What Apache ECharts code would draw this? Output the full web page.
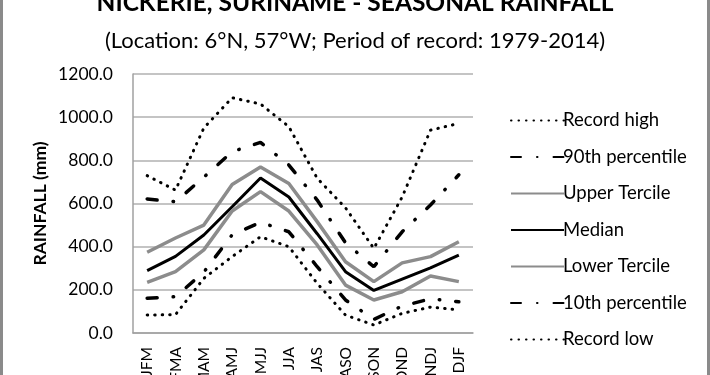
<!DOCTYPE html>
<html>
<head>
<meta charset="utf-8">
<script src="https://cdn.jsdelivr.net/npm/echarts@6/dist/echarts.min.js"></script>
<style>
  html, body { margin: 0; padding: 0; background: #fff; }
  #chart { width: 710px; height: 375px; }
</style>
</head>
<body>
<div id="chart"></div>
<script>
// seasons (3-month windows)
const seasons = ['JFM', 'FMA', 'MAM', 'AMJ', 'MJJ', 'JJA', 'JAS', 'ASO', 'SON', 'OND', 'NDJ', 'DJF']

// rainfall in mm
const recordHigh = [729, 662, 950, 1090, 1061, 956, 717, 580, 392, 630, 940, 971]
const pct90 = [621, 608, 722, 840, 883, 778, 616, 418, 307, 469, 593, 733]
const upperTercile = [374, 440, 500, 688, 769, 693, 516, 330, 238, 325, 354, 423]
const median = [289, 355, 454, 585, 718, 630, 460, 284, 197, 250, 302, 361]
const lowerTercile = [235, 284, 385, 565, 655, 565, 408, 222, 153, 191, 264, 238]
const pct10 = [161, 168, 282, 455, 513, 469, 307, 153, 63, 125, 158, 145]
const recordLow = [83, 85, 253, 354, 446, 400, 230, 83, 37, 91, 120, 107]

const yTicks = [0, 200, 400, 600, 800, 1000, 1200]

const font = 'Lato'
const grey = '#8c8c8c'

const dotted = { color: '#000', width: 3, type: [0.5, 7], cap: 'round' }
const dashDot = { color: '#000', width: 3.5, type: [10, 16, 0.5, 16], cap: 'round' }

function mkLine(name, data, lineStyle) {
    return {
        name: name,
        type: 'line',
        data: data,
        symbol: 'none',
        lineStyle: lineStyle,
        itemStyle: { color: lineStyle.color },
        emphasis: { disabled: true },
        animation: false
    }
}

var myChart = echarts.init(document.getElementById('chart'))
const option = {
    backgroundColor: '#fff',
    animation: false,
    graphic: [
        {
            type: 'text', left: 'center', top: -9,
            style: { text: 'NICKERIE, SURINAME - SEASONAL RAINFALL', font: 'bold 24.5px ' + font, fill: '#000' }
        },
        {
            type: 'text', left: 'center', top: 30,
            style: { text: '(Location: 6°N, 57°W; Period of record: 1979-2014)', font: '22px ' + font, fill: '#000' }
        },
        { type: 'rect', shape: { x: 0, y: 0, width: 3, height: 375 }, style: { fill: '#8a8a8a' } },
        { type: 'rect', shape: { x: 707, y: 0, width: 3, height: 375 }, style: { fill: '#8a8a8a' } }
    ],
    legend: {
        orient: 'vertical',
        left: 505,
        top: 106,
        itemWidth: 53,
        itemHeight: 14,
        itemGap: 17.5,
        itemStyle: { opacity: 0 },
        textStyle: { fontFamily: font, fontSize: 18.5, color: '#000', padding: [0, 0, 0, -6] },
        data: ['Record high', '90th percentile', 'Upper Tercile', 'Median', 'Lower Tercile', '10th percentile', 'Record low']
    },
    grid: { left: 133, right: 237, top: 74, bottom: 42, outerBoundsMode: 'none' },
    xAxis: {
        type: 'category',
        data: seasons,
        axisLine: { lineStyle: { color: '#a0a0a0', width: 1.5 } },
        axisTick: { show: false },
        axisLabel: { rotate: 90, margin: 14, fontFamily: font, fontSize: 15.5, color: '#000' }
    },
    yAxis: {
        type: 'value',
        min: yTicks[0],
        max: yTicks[yTicks.length - 1],
        interval: 200,
        name: 'RAINFALL (mm)',
        nameLocation: 'middle',
        nameGap: 84,
        nameTextStyle: { fontFamily: font, fontSize: 17.5, fontWeight: 'bold', color: '#000' },
        axisLine: { show: true, lineStyle: { color: '#a0a0a0', width: 1.5 } },
        axisTick: { show: false },
        axisLabel: { margin: 20, fontFamily: font, fontSize: 17.5, color: '#000', formatter: v => v.toFixed(1) },
        splitLine: { lineStyle: { color: '#b0b0b0', width: 1.5 } }
    },
    series: [
        mkLine('Record high', recordHigh, dotted),
        mkLine('90th percentile', pct90, dashDot),
        mkLine('Upper Tercile', upperTercile, { color: grey, width: 3.5 }),
        mkLine('Median', median, { color: '#000', width: 3 }),
        mkLine('Lower Tercile', lowerTercile, { color: grey, width: 3.5 }),
        mkLine('10th percentile', pct10, dashDot),
        mkLine('Record low', recordLow, dotted)
    ]
}
myChart.setOption(option)
</script>
</body>
</html>
